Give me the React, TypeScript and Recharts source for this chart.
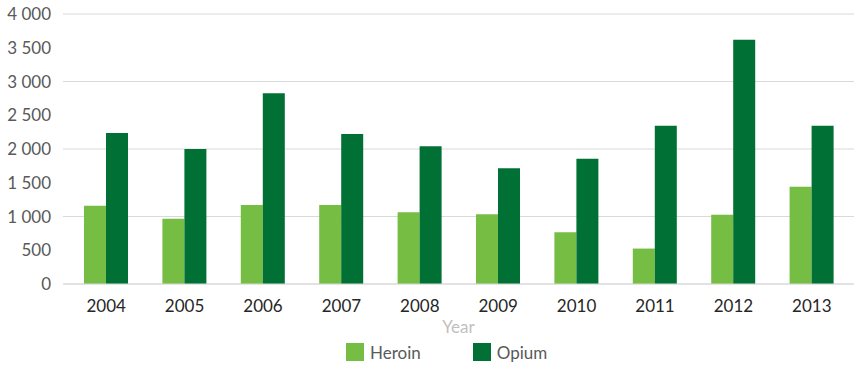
import React from 'react';
import { BarChart, Bar, XAxis, YAxis, CartesianGrid, Legend } from 'recharts';

const years = ['2004', '2005', '2006', '2007', '2008', '2009', '2010', '2011', '2012', '2013'];
const heroin = [1160, 965, 1170, 1170, 1062, 1035, 765, 525, 1027, 1442];
const opium = [2238, 2000, 2826, 2222, 2040, 1715, 1856, 2345, 3620, 2345];
const yTicks = [0, 500, 1000, 1500, 2000, 2500, 3000, 3500, 4000];
const gridValues = [0, 1000, 2000, 3000, 4000];

const data = years.map((y, i) => ({ year: y, Heroin: heroin[i], Opium: opium[i] }));

const HEROIN = '#76bd43';
const OPIUM = '#007034';
const FONT = 'Lato, "Open Sans", sans-serif';

const fmt = (v: number) => String(v).replace(/\B(?=(\d{3})+(?!\d))/g, ' ');

const LegendContent = (props: any) => {
  const items = props.payload || [];
  return (
    <div style={{ display: 'flex', alignItems: 'center', height: 24, fontFamily: FONT, fontSize: 17, color: '#595959' }}>
      {items.map((it: any, i: number) => (
        <div key={i} style={{ display: 'flex', alignItems: 'center', marginRight: i === 0 ? 52 : 0 }}>
          <span style={{ display: 'inline-block', width: 18, height: 18, background: it.color, marginRight: 6 }} />
          <span>{it.value}</span>
        </div>
      ))}
    </div>
  );
};

export default function App() {
  return (
    <div style={{ position: 'absolute', left: 0, top: 0, width: 863, height: 369, background: '#fff' }}>
      <BarChart
        width={863}
        height={369}
        data={data}
        margin={{ top: 14, right: 9, left: 0, bottom: 11 }}
        barGap={0}
        barSize={22}
        style={{ fontFamily: FONT }}
      >
        <CartesianGrid vertical={false} stroke="#d9d9d9" horizontalValues={gridValues} />
        <XAxis
          dataKey="year"
          height={50}
          padding={{ left: 4, right: 3 }}
          axisLine={{ stroke: '#d9d9d9' }}
          tickLine={false}
          tickMargin={10}
          tick={{ fill: '#262626', fontSize: 17, fontFamily: FONT }}
          label={{ value: 'Year', position: 'insideBottom', offset: 1, fill: '#bfbfbf', fontSize: 17, fontFamily: FONT }}
        />
        <YAxis
          width={63}
          domain={[0, 4000]}
          ticks={yTicks}
          interval={0}
          axisLine={false}
          tickLine={false}
          tickMargin={6}
          tickFormatter={fmt}
          tick={{ fill: '#595959', fontSize: 17, fontFamily: FONT }}
        />
        <Legend
          content={<LegendContent />}
          height={24}
          wrapperStyle={{ position: 'absolute', left: 346, top: 340, width: 'auto' }}
        />
        <Bar dataKey="Heroin" fill={HEROIN} isAnimationActive={false} />
        <Bar dataKey="Opium" fill={OPIUM} isAnimationActive={false} />
      </BarChart>
    </div>
  );
}
